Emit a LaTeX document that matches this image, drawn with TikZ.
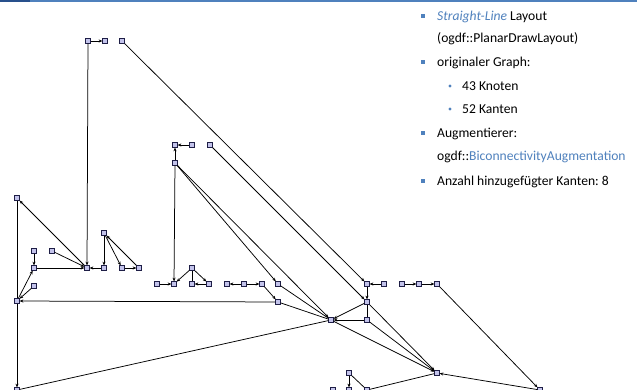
\documentclass[tikz,border=0pt]{standalone}
\usepackage{fontspec}
\setmainfont{Carlito}
\usetikzlibrary{arrows.meta}
\definecolor{offblue}{RGB}{79,129,189}
\definecolor{darkblue}{RGB}{40,80,140}
\definecolor{nodefill}{RGB}{195,195,235}
\definecolor{nodeline}{RGB}{30,30,70}
\frenchspacing
\begin{document}
\begin{tikzpicture}[x=1pt,y=-1pt,
  vbox/.style={draw=nodeline,fill=nodefill,minimum size=4.4pt,inner sep=0pt,line width=0.7pt,shape=rectangle},
  edge/.style={line width=0.75pt,draw=black},
  arr/.style={edge,-{Stealth[length=3.8pt,width=3pt]}},
  txt/.style={anchor=base west,inner sep=0pt,font=\fontsize{13.6}{16}\selectfont},
  bul/.style={fill=offblue,minimum size=4.4pt,inner sep=0pt,shape=rectangle},
  sbul/.style={fill=offblue,circle,minimum size=3.4pt,inner sep=0pt}]
\useasboundingbox (0,0) rectangle (637,390);
\fill[white] (0,0) rectangle (637,390);
% top rule
\draw[offblue,line width=1.4pt] (0,1) -- (637,1);
\draw[darkblue,line width=1.6pt] (0,1) -- (30,1);

% ---- nodes ----
\node[vbox] (a1) at (88,41) {};
\node[vbox] (a2) at (105,41) {};
\node[vbox] (a3) at (122,41) {};
\node[vbox] (c1) at (175,145) {};
\node[vbox] (c2) at (192,145) {};
\node[vbox] (c3) at (210,145) {};
\node[vbox] (c4) at (175,163) {};
\node[vbox] (l1) at (17,198) {};
\node[vbox] (l2) at (34,251) {};
\node[vbox] (l3) at (52,251) {};
\node[vbox] (l4) at (34,268) {};
\node[vbox] (b) at (87,268) {};
\node[vbox] (l5) at (104,268) {};
\node[vbox] (l6) at (104,233) {};
\node[vbox] (l7) at (122,268) {};
\node[vbox] (l8) at (139,268) {};
\node[vbox] (l9) at (34,286) {};
\node[vbox] (l10) at (17,301) {};
\node[vbox] (l11) at (17,390) {};
\node[vbox] (m1) at (157,284) {};
\node[vbox] (m2) at (174,284) {};
\node[vbox] (m3) at (192,268) {};
\node[vbox] (m4) at (192,284) {};
\node[vbox] (m5) at (209,284) {};
\node[vbox] (m6) at (227,284) {};
\node[vbox] (m7) at (244,284) {};
\node[vbox] (m8) at (262,284) {};
\node[vbox] (m9) at (278,284) {};
\node[vbox] (m10) at (278,302) {};
\node[vbox] (r1) at (367,284) {};
\node[vbox] (r2) at (384,284) {};
\node[vbox] (r3) at (402,284) {};
\node[vbox] (r4) at (419,284) {};
\node[vbox] (r5) at (437,284) {};
\node[vbox] (r6) at (367,302) {};
\node[vbox] (h) at (331,320) {};
\node[vbox] (r7) at (367,320) {};
\node[vbox] (s1) at (437,373) {};
\node[vbox] (s2) at (540,390) {};
\node[vbox] (t1) at (333,390) {};
\node[vbox] (t2) at (349,373) {};
\node[vbox] (t3) at (349,390) {};
\node[vbox] (t4) at (367,390) {};

% ---- edges ----
\draw[arr] (a1) -- (a2);
\draw[arr] (a1) -- (b);
\draw[arr] (a3) -- (r1);
\draw[arr] (c2) -- (c1);
\draw[arr] (c4) -- (c1);
\draw[arr] (c4) -- (m2);
\draw[arr] (c4) -- (m9);
\draw[arr] (c4) -- (h);
\draw[arr] (c3) -- (r6);
\draw[arr] (b) -- (l1);
\draw[edge] (l1) -- (l10);
\draw[arr] (l2) -- (l4);
\draw[arr] (l3) -- (b);
\draw[arr] (l4) -- (b);
\draw[arr] (l5) -- (b);
\draw[arr] (l6) -- (l5);
\draw[arr] (l6) -- (l7);
\draw[arr] (l8) -- (l6);
\draw[arr] (l7) -- (l8);
\draw[arr] (l10) -- (l4);
\draw[arr] (l9) -- (l10);
\draw[arr] (m10) -- (l10);
\draw[arr] (l10) -- (l11);
\draw[edge] (l11) -- (h);
\draw[arr] (m1) -- (m2);
\draw[arr] (m3) -- (m2);
\draw[edge] (m3) -- (m4);
\draw[arr] (m3) -- (m5);
\draw[arr] (m5) -- (m4);
\draw[arr] (m7) -- (m6);
\draw[arr] (m7) -- (m8);
\draw[arr] (m8) -- (m10);
\draw[edge] (m9) -- (h);
\draw[edge] (m10) -- (h);
\draw[arr] (r2) -- (r1);
\draw[arr] (r3) -- (r4);
\draw[arr] (r4) -- (r5);
\draw[arr] (r5) -- (s2);
\draw[arr] (r1) -- (r6);
\draw[arr] (r6) -- (h);
\draw[edge] (r6) -- (r7);
\draw[arr] (r7) -- (h);
\draw[arr] (h) -- (s1);
\draw[arr] (r6) -- (s1);
\draw[arr] (r7) -- (s1);
\draw[arr] (s2) -- (s1);
\draw[edge] (t4) -- (s1);
\draw[arr] (t2) -- (t3);
\draw[edge] (t2) -- (t4);

% ---- text ----
\node[bul] (b1) at (423,16) {};
\node[txt] (x1) at (437,21) {\textcolor{offblue}{\itshape Straight-Line} Layout};
\node[txt] (x2) at (437,43) {(ogdf::PlanarDrawLayout)};
\node[bul] (b2) at (423,62) {};
\node[txt] (x3) at (437,67) {originaler Graph:};
\node[sbul] (b3) at (450,86) {};
\node[txt] (x4) at (462,91) {43 Knoten};
\node[sbul] (b4) at (450,109) {};
\node[txt] (x5) at (462,114) {52 Kanten};
\node[bul] (b5) at (423,133) {};
\node[txt] (x6) at (437,138) {Augmentierer:};
\node[txt] (x7) at (437,161) {ogdf::\textcolor{offblue}{BiconnectivityAugmentation}};
\node[bul] (b6) at (423,181) {};
\node[txt] (x8) at (437,186) {Anzahl hinzugefügter Kanten: 8};
\end{tikzpicture}
\end{document}
